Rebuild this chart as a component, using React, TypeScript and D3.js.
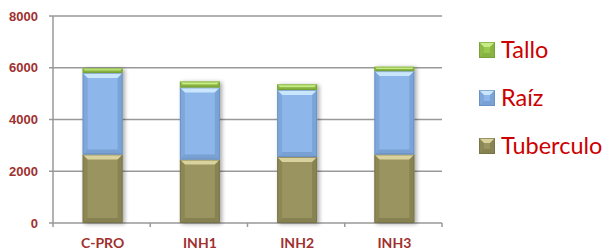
import * as React from "react";
import * as d3 from "d3";

const categories = ["C-PRO", "INH1", "INH2", "INH3"];
const tuberculo = [2650, 2450, 2550, 2650];
const raiz = [3150, 2790, 2590, 3220];
const tallo = [180, 230, 220, 170];
const yTicks = [0, 2000, 4000, 6000, 8000];

const seriesNames = ["Tuberculo", "Raíz", "Tallo"];
const colors: Record<string, { main: string; light: string; dark: string }> = {
  Tuberculo: { main: "#9a9460", light: "#d9d29c", dark: "#6f6a40" },
  "Raíz": { main: "#8db6ea", light: "#c9e6fd", dark: "#5f86b8" },
  Tallo: { main: "#9bc94e", light: "#c8ec84", dark: "#6e9632" },
};

const Bar = ({ x, y, w, h, c }: any) => {
  const b = Math.min(5, h / 2, w / 2);
  const x1 = x + w;
  const y1 = y + h;
  return (
    <g>
      <rect x={x} y={y} width={w} height={h} fill={c.main} />
      <polygon points={`${x},${y} ${x1},${y} ${x1 - b},${y + b} ${x + b},${y + b}`} fill={c.light} />
      <polygon points={`${x},${y1} ${x1},${y1} ${x1 - b},${y1 - b} ${x + b},${y1 - b}`} fill={c.dark} opacity={0.45} />
      <polygon points={`${x},${y} ${x + b},${y + b} ${x + b},${y1 - b} ${x},${y1}`} fill={c.dark} opacity={0.3} />
      <polygon points={`${x1},${y} ${x1 - b},${y + b} ${x1 - b},${y1 - b} ${x1},${y1}`} fill={c.dark} opacity={0.4} />
      <rect x={x + 0.5} y={y + 0.5} width={w - 1} height={Math.max(0, h - 1)} fill="none" stroke={c.dark} strokeOpacity={0.6} strokeWidth={1} />
    </g>
  );
};

export default function App() {
  const width = 612;
  const height = 250;
  const left = 53;
  const right = 442;
  const top = 16;
  const bottom = 223;

  const x = d3.scaleBand().domain(categories).range([left, right]).paddingInner(0).paddingOuter(0);
  const y = d3.scaleLinear().domain([0, 8000]).range([bottom, top]);
  const barW = 40;

  const table = categories.map((cat, i) => ({
    cat,
    Tuberculo: tuberculo[i],
    "Raíz": raiz[i],
    Tallo: tallo[i],
  }));
  const stacked = d3.stack<any>().keys(seriesNames)(table);

  const legendItems = ["Tallo", "Raíz", "Tuberculo"];

  return (
    <svg width={width} height={height} style={{ position: "absolute", left: 0, top: 0 }}>
      <defs>
        <filter id="shadow" x="-20%" y="-20%" width="150%" height="150%">
          <feGaussianBlur in="SourceAlpha" stdDeviation="2" />
          <feOffset dx="2" dy="1" result="o" />
          <feComponentTransfer>
            <feFuncA type="linear" slope="0.35" />
          </feComponentTransfer>
          <feMerge>
            <feMergeNode />
            <feMergeNode in="SourceGraphic" />
          </feMerge>
        </filter>
      </defs>
      <rect width={width} height={height} fill="#fff" />
      {yTicks.map((t) => (
        <g key={t}>
          {t > 0 && <line x1={left} x2={right} y1={y(t)} y2={y(t)} stroke="#999" strokeWidth={1.5} />}
          <line x1={left - 4} x2={left} y1={y(t)} y2={y(t)} stroke="#999" strokeWidth={1.5} />
          <text
            x={38}
            y={y(t)}
            dy="0.35em"
            textAnchor="end"
            fontFamily="Liberation Sans, Arial, sans-serif"
            fontWeight="bold"
            fontSize={13}
            fill="#a0302f"
          >
            {t}
          </text>
        </g>
      ))}
      <line x1={left} x2={left} y1={top} y2={bottom} stroke="#999" strokeWidth={1.5} />
      <line x1={left} x2={right} y1={bottom} y2={bottom} stroke="#999" strokeWidth={1.5} />
      {categories.concat([""]).map((c, i) => {
        const px = left + i * x.step();
        return <line key={i} x1={px} x2={px} y1={bottom} y2={bottom + 4} stroke="#999" strokeWidth={1.5} />;
      })}
      <g filter="url(#shadow)">
        {stacked.map((s) =>
          s.map((d: any, i: number) => {
            const cx = (x(categories[i]) as number) + x.bandwidth() / 2 + 1;
            return (
              <Bar
                key={s.key + i}
                x={cx - barW / 2}
                y={y(d[1])}
                w={barW}
                h={y(d[0]) - y(d[1])}
                c={colors[s.key]}
              />
            );
          })
        )}
      </g>
      {categories.map((c) => (
        <text
          key={c}
          x={(x(c) as number) + x.bandwidth() / 2 + 1}
          y={248}
          textAnchor="middle"
          fontFamily="Lato, sans-serif"
          fontWeight="bold"
          fontSize={14}
          fill="#a0302f"
        >
          {c}
        </text>
      ))}
      {legendItems.map((k, i) => {
        const cy = 50 + i * 48;
        return (
          <g key={k}>
            <Bar x={479} y={cy - 8} w={16} h={16} c={colors[k]} />
            <text x={501} y={cy} dy="0.35em" fontFamily="Lato, sans-serif" fontSize={23.5} fill="#cc0000">
              {k}
            </text>
          </g>
        );
      })}
    </svg>
  );
}
